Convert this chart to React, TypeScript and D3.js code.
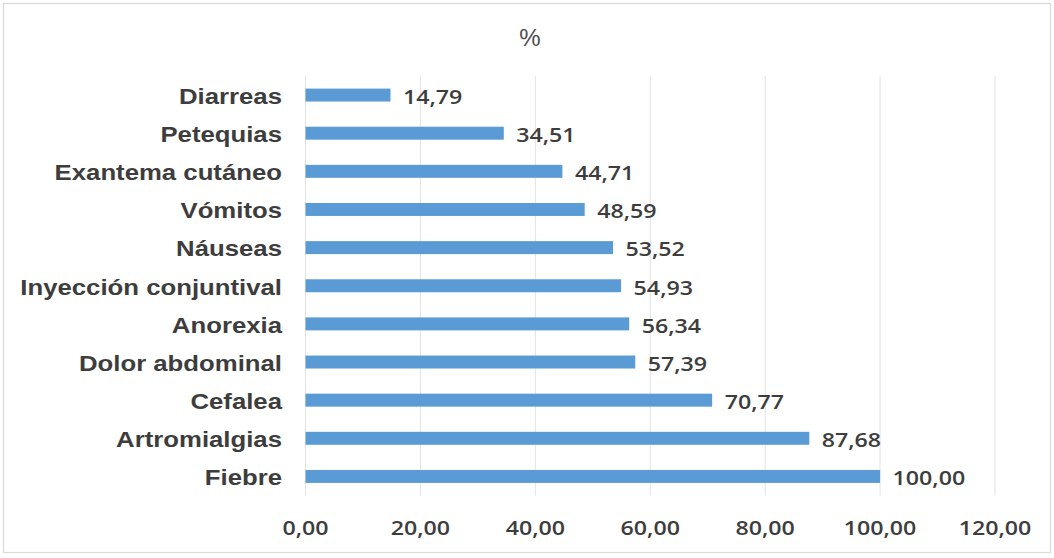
import React from "react";
import * as d3 from "d3";

const categories = [
  "Diarreas",
  "Petequias",
  "Exantema cutáneo",
  "Vómitos",
  "Náuseas",
  "Inyección conjuntival",
  "Anorexia",
  "Dolor abdominal",
  "Cefalea",
  "Artromialgias",
  "Fiebre",
];
const values = [14.79, 34.51, 44.71, 48.59, 53.52, 54.93, 56.34, 57.39, 70.77, 87.68, 100.0];
const xTicks = [0, 20, 40, 60, 80, 100, 120];
const title = "%";

const W = 1054;
const H = 558;

const fmt = (v: number) => v.toFixed(2).replace(".", ",");

export default function App() {
  const x = d3.scaleLinear().domain([0, 120]).range([305.5, 995]);
  const y = d3.scaleBand<string>().domain(categories).range([76, 495.5]).paddingInner(0.66).paddingOuter(0.33);
  const bh = y.bandwidth();
  const textColor = "#3d3d3d";
  const sx = 1.17;
  return (
    <svg
      width={W}
      height={H}
      style={{ position: "fixed", left: 0, top: 0, background: "#fff" }}
    >
      <rect x={0} y={0} width={W} height={H} fill="#fff" />
      <rect x={3.5} y={3.5} width={1047} height={549} fill="#fff" stroke="#d9d9d9" strokeWidth={1.2} />
      <text
        x={530}
        y={37}
        textAnchor="middle"
        dominantBaseline="central"
        fontFamily="'Liberation Sans', Arial, sans-serif"
        fontSize={24}
        fill="#4d4d4d"
      >
        {title}
      </text>
      {xTicks.map((t) => (
        <line key={"g" + t} x1={x(t)} x2={x(t)} y1={76} y2={495.5} stroke="#e3e3e3" strokeWidth={1} />
      ))}
      {categories.map((c, i) => {
        const yc = (y(c) as number) + bh / 2;
        return (
          <g key={c}>
            <rect x={x(0)} y={y(c)} width={x(values[i]) - x(0)} height={bh} fill="#5b9bd5" />
            <g transform={`translate(282,${yc + 1}) scale(${sx},1)`}>
              <text
                textAnchor="end"
                dominantBaseline="central"
                fontFamily="'Liberation Sans', Arial, sans-serif"
                fontWeight="bold"
                fontSize={22}
                fill={textColor}
              >
                {c}
              </text>
            </g>
            <g transform={`translate(${x(values[i]) + 12.5},${yc + 1}) scale(1.16,1)`}>
              <text
                textAnchor="start"
                dominantBaseline="central"
                fontFamily="'Open Sans', sans-serif"
                fontWeight={600}
                fontSize={20}
                fill={textColor}
              >
                {fmt(values[i])}
              </text>
            </g>
          </g>
        );
      })}
      {xTicks.map((t) => (
        <g key={"t" + t} transform={`translate(${x(t)},527) scale(1.16,1)`}>
          <text
            textAnchor="middle"
            dominantBaseline="central"
            fontFamily="'Open Sans', sans-serif"
            fontWeight={600}
            fontSize={20}
            fill={textColor}
          >
            {fmt(t)}
          </text>
        </g>
      ))}
    </svg>
  );
}
